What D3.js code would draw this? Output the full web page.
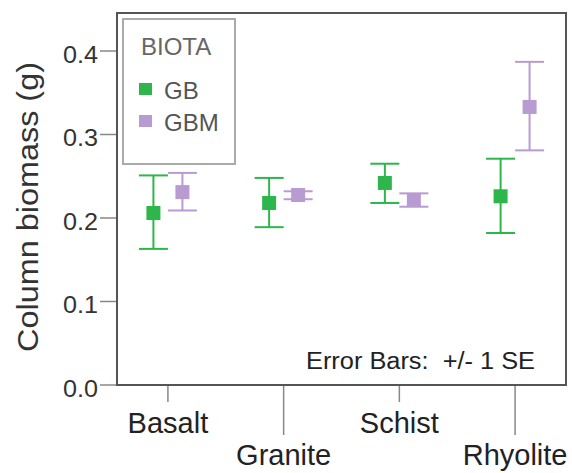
<!DOCTYPE html>
<html>
<head>
<meta charset="utf-8">
<script src="https://cdn.jsdelivr.net/npm/d3@7"></script>
<style>
  body { margin: 0; background: white; }
  text { font-family: "Liberation Sans", Arial, sans-serif; }
</style>
</head>
<body>
<svg></svg>
<script>
// data
const categories = ["Basalt", "Granite", "Schist", "Rhyolite"];
const series = ["GB", "GBM"];
const gbMean = [0.206, 0.218, 0.242, 0.226];
const gbLow = [0.163, 0.189, 0.218, 0.182];
const gbHigh = [0.251, 0.248, 0.265, 0.271];
const gbmMean = [0.231, 0.2275, 0.2216, 0.333];
const gbmLow = [0.209, 0.2225, 0.2135, 0.281];
const gbmHigh = [0.254, 0.232, 0.2295, 0.387];
const yTicks = [0, 0.1, 0.2, 0.3, 0.4];

const colors = { GB: "#2db64b", GBM: "#b89bd0" };

const width = 572, height = 473;
const margin = { top: 13, right: 6, bottom: 88, left: 117 };

const svg = d3.select("svg").attr("width", width).attr("height", height);

const x = d3.scalePoint()
  .domain(categories)
  .range([margin.left, width - margin.right])
  .padding(0.44);

const offset = d3.scalePoint()
  .domain(series)
  .range([-14.5, 14.5]);

const y = d3.scaleLinear()
  .domain([0, 0.4455])
  .range([height - margin.bottom, margin.top]);

const rows = [];
categories.forEach((c, i) => {
  rows.push({ cat: c, s: "GB", mean: gbMean[i], lo: gbLow[i], hi: gbHigh[i] });
  rows.push({ cat: c, s: "GBM", mean: gbmMean[i], lo: gbmLow[i], hi: gbmHigh[i] });
});

// y ticks
const yAxis = svg.append("g");
yAxis.selectAll("line")
  .data(yTicks).enter().append("line")
  .attr("x1", margin.left - 17).attr("x2", margin.left)
  .attr("y1", d => y(d)).attr("y2", d => y(d))
  .attr("stroke", "#888").attr("stroke-width", 1.5);
yAxis.selectAll("text")
  .data(yTicks).enter().append("text")
  .attr("x", margin.left - 19)
  .attr("y", d => y(d) + 12)
  .attr("text-anchor", "end")
  .attr("font-size", 23)
  .attr("textLength", 35).attr("lengthAdjust", "spacingAndGlyphs")
  .attr("fill", "#333")
  .text(d => d3.format(".1f")(d));

// x ticks (staggered labels)
const xAxis = svg.append("g");
xAxis.selectAll("line")
  .data(categories).enter().append("line")
  .attr("x1", d => x(d)).attr("x2", d => x(d))
  .attr("y1", height - margin.bottom)
  .attr("y2", (d, i) => height - margin.bottom + (i % 2 ? 50 : 17))
  .attr("stroke", "#888").attr("stroke-width", 1.5);
xAxis.selectAll("text")
  .data(categories).enter().append("text")
  .attr("x", d => x(d))
  .attr("y", (d, i) => height - margin.bottom + (i % 2 ? 80 : 48))
  .attr("text-anchor", "middle")
  .attr("font-size", 29)
  .attr("fill", "#222")
  .text(d => d);

// axis title
svg.append("text")
  .attr("transform", `translate(38, ${(margin.top + height - margin.bottom) / 2 + 8}) rotate(-90)`)
  .attr("text-anchor", "middle")
  .attr("font-size", 29)
  .attr("textLength", 290).attr("lengthAdjust", "spacingAndGlyphs")
  .attr("fill", "#333")
  .text("Column biomass (g)");

// plot frame
svg.append("rect")
  .attr("x", margin.left).attr("y", margin.top)
  .attr("width", width - margin.left - margin.right)
  .attr("height", height - margin.top - margin.bottom)
  .attr("fill", "none").attr("stroke", "#555").attr("stroke-width", 2);

// error bars
const bars = svg.append("g").selectAll("g")
  .data(rows).enter().append("g")
  .attr("stroke", d => colors[d.s]).attr("stroke-width", 2);
bars.append("line")
  .attr("x1", d => x(d.cat) + offset(d.s)).attr("x2", d => x(d.cat) + offset(d.s))
  .attr("y1", d => y(d.lo)).attr("y2", d => y(d.hi));
bars.append("line")
  .attr("x1", d => x(d.cat) + offset(d.s) - 14.5).attr("x2", d => x(d.cat) + offset(d.s) + 14.5)
  .attr("y1", d => y(d.hi)).attr("y2", d => y(d.hi));
bars.append("line")
  .attr("x1", d => x(d.cat) + offset(d.s) - 14.5).attr("x2", d => x(d.cat) + offset(d.s) + 14.5)
  .attr("y1", d => y(d.lo)).attr("y2", d => y(d.lo));
bars.append("rect")
  .attr("x", d => x(d.cat) + offset(d.s) - 7)
  .attr("y", d => y(d.mean) - 7)
  .attr("width", 14).attr("height", 14)
  .attr("stroke", "none")
  .attr("fill", d => colors[d.s]);

// legend
const legend = svg.append("g");
legend.append("rect")
  .attr("x", 123).attr("y", 19).attr("width", 112).attr("height", 145)
  .attr("fill", "white").attr("stroke", "#aaa").attr("stroke-width", 2);
legend.append("text")
  .attr("x", 141).attr("y", 55)
  .attr("font-size", 24).attr("fill", "#666")
  .text("BIOTA");
const items = legend.selectAll(".item")
  .data(series).enter().append("g")
  .attr("transform", (d, i) => `translate(0, ${89 + i * 32})`);
items.append("rect")
  .attr("x", 139).attr("y", -6).attr("width", 13).attr("height", 12)
  .attr("fill", d => colors[d]);
items.append("text")
  .attr("x", 164).attr("y", 10)
  .attr("font-size", 24).attr("fill", "#555")
  .text(d => d);

// note
svg.append("text")
  .attr("x", 306).attr("y", 369)
  .attr("font-size", 23)
  .attr("textLength", 229).attr("lengthAdjust", "spacingAndGlyphs")
  .attr("fill", "#222")
  .attr("xml:space", "preserve")
  .text("Error Bars:  +/- 1 SE");
</script>
</body>
</html>
